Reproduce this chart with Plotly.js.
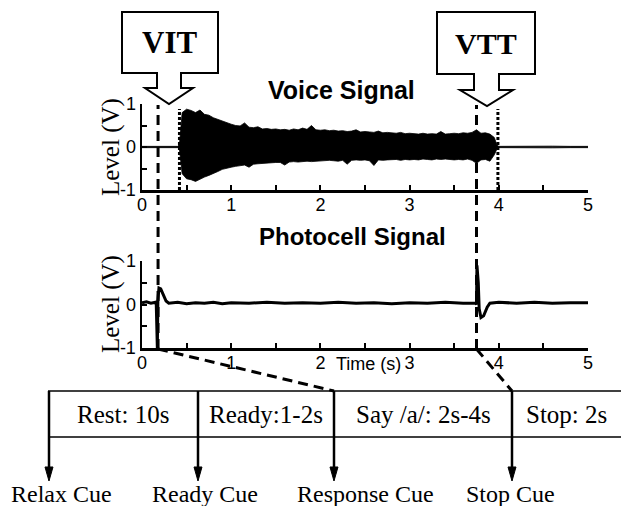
<!DOCTYPE html>
<html><head><meta charset="utf-8">
<script src="https://cdn.plot.ly/plotly-3.0.1.min.js"></script>
<style>html,body{margin:0;padding:0;background:#fff}</style>
</head><body><div id="chart" style="width:621px;height:506px"></div>
<script>
// ---- data ----
// Voice signal envelope (V): time (s), upper and lower envelope
const voiceT = [0,0.1,0.2,0.3,0.4,0.42,
 0.45,0.50,0.55,0.60,0.65,0.70,0.75,0.80,0.85,0.90,0.95,1.00,
 1.05,1.10,1.15,1.20,1.25,1.30,1.35,1.40,1.45,1.50,
 1.55,1.60,1.65,1.70,1.75,1.80,1.85,1.90,1.95,2.00,
 2.05,2.10,2.15,2.20,2.25,2.30,2.35,2.40,2.45,2.50,
 2.55,2.60,2.65,2.70,2.75,2.80,2.85,2.90,2.95,3.00,
 3.05,3.10,3.15,3.20,3.25,3.30,3.35,3.40,3.45,3.50,
 3.55,3.60,3.65,3.70,3.75,3.80,3.85,3.90,3.95,
 3.98,4.0,4.2,4.4,4.6,4.8,5.0];
const voiceTop = [0.015,0.015,0.015,0.015,0.015,0.06,
 0.80,0.88,0.85,0.80,0.86,0.76,0.74,0.68,0.64,0.60,0.56,0.53,
 0.50,0.49,0.56,0.46,0.45,0.47,0.42,0.43,0.41,0.42,
 0.40,0.41,0.39,0.42,0.40,0.44,0.41,0.50,0.40,0.39,
 0.40,0.38,0.39,0.37,0.38,0.36,0.37,0.40,0.35,0.36,
 0.35,0.34,0.37,0.33,0.34,0.33,0.32,0.34,0.31,0.32,
 0.31,0.30,0.32,0.30,0.31,0.30,0.36,0.30,0.31,0.32,
 0.31,0.33,0.32,0.34,0.40,0.32,0.33,0.30,0.22,
 0.04,0.015,0.02,0.015,0.02,0.015,0.015];
const voiceBot = [-0.015,-0.015,-0.015,-0.015,-0.015,-0.06,
 -0.62,-0.74,-0.76,-0.80,-0.74,-0.70,-0.66,-0.62,-0.57,-0.52,-0.49,-0.47,
 -0.45,-0.44,-0.42,-0.47,-0.40,-0.39,-0.38,-0.38,-0.37,-0.36,
 -0.36,-0.42,-0.35,-0.34,-0.35,-0.34,-0.33,-0.34,-0.33,-0.32,
 -0.32,-0.31,-0.32,-0.33,-0.31,-0.40,-0.31,-0.30,-0.31,-0.30,
 -0.32,-0.43,-0.30,-0.31,-0.30,-0.30,-0.29,-0.31,-0.29,-0.30,
 -0.29,-0.30,-0.28,-0.29,-0.30,-0.28,-0.29,-0.28,-0.29,-0.30,
 -0.29,-0.30,-0.28,-0.31,-0.38,-0.30,-0.29,-0.33,-0.18,
 -0.04,-0.015,-0.02,-0.015,-0.02,-0.015,-0.015];

// Photocell signal (V)
const photoT = [0,0.05,0.1,0.15,0.16,0.165,0.172,0.178,0.19,0.21,0.24,0.27,0.30,
 0.4,0.5,0.6,0.7,0.8,0.9,1.0,1.2,1.4,1.6,1.8,2.0,2.2,2.4,2.6,2.8,3.0,3.2,3.4,3.6,3.74,
 3.75,3.755,3.77,3.78,3.80,3.83,3.87,3.90,4.0,4.2,4.4,4.6,4.8,5.0];
const photoV = [0.04,0.06,0.03,0.05,0.0,-1.0,-1.0,0.1,0.38,0.36,0.22,0.08,0.03,
 0.05,0.02,0.04,0.03,0.05,0.02,0.04,0.03,0.05,0.03,0.04,0.03,0.05,0.03,0.04,0.02,0.04,0.03,0.05,0.03,0.03,
 0.0,0.9,0.5,-0.1,-0.3,-0.26,-0.06,0.03,0.05,0.03,0.05,0.03,0.04,0.04];

// Event times (s)
const vitTime = 0.18, vttTime = 3.75;       // dashed markers
const voiceOnset = 0.42, voiceOffset = 3.99; // dotted markers

// Axis ticks
const xTickVals = [0,0.5,1,1.5,2,2.5,3,3.5,4,4.5,5];
const xTickText = ['0','','1','','2','','3','','4','','5'];
const yTickVals = [-1,-0.5,0,0.5,1];
const yTickText = ['-1','','0','','1'];

// Trial phases (table) and cues
const phases = ['Rest: 10s','Ready:1-2s','Say /a/: 2s-4s','Stop: 2s'];
const cues = ['Relax Cue','Ready Cue','Response Cue','Stop Cue'];

// ---- layout helpers ----
const W = 621, H = 506;
const px = x => x / W, py = y => 1 - y / H;
const xDom = [px(142), px(588)];
const tPaper = t => xDom[0] + t / 5 * (xDom[1] - xDom[0]);
function path(pts, close) {
  return 'M' + pts.map(p => p[0].toFixed(5) + ',' + p[1].toFixed(5)).join(' L') + (close ? ' Z' : '');
}
const pp = (x, y) => [px(x), py(y)];

const serif = 'Liberation Serif', sans = 'Liberation Sans';

const traces = [
  {x: voiceT, y: voiceBot, xaxis: 'x', yaxis: 'y', mode: 'lines', line: {color: '#000', width: 0.8}, hoverinfo: 'skip'},
  {x: voiceT, y: voiceTop, xaxis: 'x', yaxis: 'y', mode: 'lines', fill: 'tonexty', fillcolor: '#000', line: {color: '#000', width: 0.8}, hoverinfo: 'skip'},
  {x: photoT, y: photoV, xaxis: 'x2', yaxis: 'y2', mode: 'lines', line: {color: '#000', width: 3}, hoverinfo: 'skip'}
];

const axX = {range: [0, 5], domain: xDom, showline: true, linecolor: '#000', linewidth: 2.5,
  ticks: 'inside', ticklen: 5, tickwidth: 2, tickcolor: '#000', tickvals: xTickVals, ticktext: xTickText,
  ticklabelstandoff: -3,
  tickfont: {family: sans, size: 18, color: '#000'}, showgrid: false, zeroline: false, fixedrange: true};
const axY = {range: [-1, 1], showline: true, linecolor: '#000', linewidth: 2.5,
  ticks: 'inside', ticklen: 5, tickwidth: 2, tickcolor: '#000', tickvals: yTickVals, ticktext: yTickText,
  tickfont: {family: sans, size: 18, color: '#000'}, showgrid: false, zeroline: false, fixedrange: true};

const shapes = [];
// Callout boxes
function callout(l, r, top, bot, s0, s1, sy, h0, h1, tipX, tipY) {
  shapes.push({type: 'path', xref: 'paper', yref: 'paper', fillcolor: '#fff', line: {color: '#000', width: 2},
    path: path([pp(l, top), pp(r, top), pp(r, bot), pp(s1, bot), pp(s1, sy), pp(h1, sy), pp(tipX, tipY),
      pp(h0, sy), pp(s0, sy), pp(s0, bot), pp(l, bot)], true)});
}
callout(122, 218, 12, 73, 157, 181, 88, 145, 193, 169, 104);
callout(437, 535, 12, 74, 474, 499, 90, 460, 513, 487, 106);

// Event marker lines
[vitTime, vttTime].forEach(t => shapes.push({type: 'line', xref: 'x', yref: 'paper', x0: t, x1: t,
  y0: py(349), y1: py(105), line: {color: '#000', width: 3, dash: '10px,6px'}}));
[voiceOnset, voiceOffset].forEach(t => shapes.push({type: 'line', xref: 'x', yref: 'paper', x0: t, x1: t,
  y0: py(190), y1: py(109), line: {color: '#000', width: 3, dash: '3px,2px'}}));

// Table
const tblTop = 391, tblBot = 437, tblLeft = 48;
shapes.push({type: 'line', xref: 'paper', yref: 'paper', x0: px(tblLeft), x1: 1, y0: py(tblTop), y1: py(tblTop), line: {color: '#000', width: 1.5}});
shapes.push({type: 'line', xref: 'paper', yref: 'paper', x0: px(tblLeft), x1: 1, y0: py(tblBot), y1: py(tblBot), line: {color: '#000', width: 1.5}});

const cueX = [49, 198, 334, 512];
cueX.forEach(x => {
  shapes.push({type: 'line', xref: 'paper', yref: 'paper', x0: px(x), x1: px(x), y0: py(tblTop), y1: py(470), line: {color: '#000', width: 2.5}});
  shapes.push({type: 'path', xref: 'paper', yref: 'paper', fillcolor: '#000', line: {color: '#000', width: 1},
    path: path([pp(x - 4, 467), pp(x + 4, 467), pp(x, 481)], true)});
});

// Slanted dashed connectors from marker lines to cues
shapes.push({type: 'path', xref: 'paper', yref: 'paper', line: {color: '#000', width: 3, dash: '10px,6px'},
  path: path([[tPaper(vitTime), py(349)], pp(cueX[2], tblTop)], false)});
shapes.push({type: 'path', xref: 'paper', yref: 'paper', line: {color: '#000', width: 3, dash: '10px,6px'},
  path: path([[tPaper(vttTime), py(349)], pp(cueX[3], tblTop)], false)});

const ann = [];
function txt(s, x, y, fam, size, opts) {
  ann.push(Object.assign({text: s, xref: 'paper', yref: 'paper', x: px(x), y: py(y), showarrow: false,
    xanchor: 'center', yanchor: 'middle', font: {family: fam, size: size, color: '#000'}}, opts || {}));
}
txt('<b>VIT</b>', 169, 43, serif, 31);
txt('<b>VTT</b>', 486, 44, serif, 30);
txt('<b>Voice Signal</b>', 341, 90, sans, 25);
txt('<b>Photocell Signal</b>', 352, 237, sans, 24);
txt('Level (V)', 111, 147, serif, 25, {textangle: -90});
txt('Level (V)', 111, 304, serif, 25, {textangle: -90});
txt('Time (s)', 368, 364, sans, 18);
const phaseX = [123, 266, 423, 566];
phases.forEach((p, i) => txt(p, phaseX[i], 414, serif, 25));
const cueLabelX = [61, 205, 366, 510];
cues.forEach((c, i) => txt(c, cueLabelX[i], 494, serif, 24));

const layout = {
  width: W, height: H, margin: {l: 0, r: 0, t: 0, b: 0}, paper_bgcolor: '#fff', plot_bgcolor: 'rgba(0,0,0,0)',
  showlegend: false,
  xaxis: Object.assign({}, axX, {anchor: 'y'}),
  yaxis: Object.assign({}, axY, {anchor: 'x', domain: [py(190), py(104)]}),
  xaxis2: Object.assign({}, axX, {anchor: 'y2'}),
  yaxis2: Object.assign({}, axY, {anchor: 'x2', domain: [py(348), py(261)]}),
  shapes: shapes, annotations: ann
};
Plotly.newPlot('chart', traces, layout, {displayModeBar: false, staticPlot: true});
</script></body></html>
